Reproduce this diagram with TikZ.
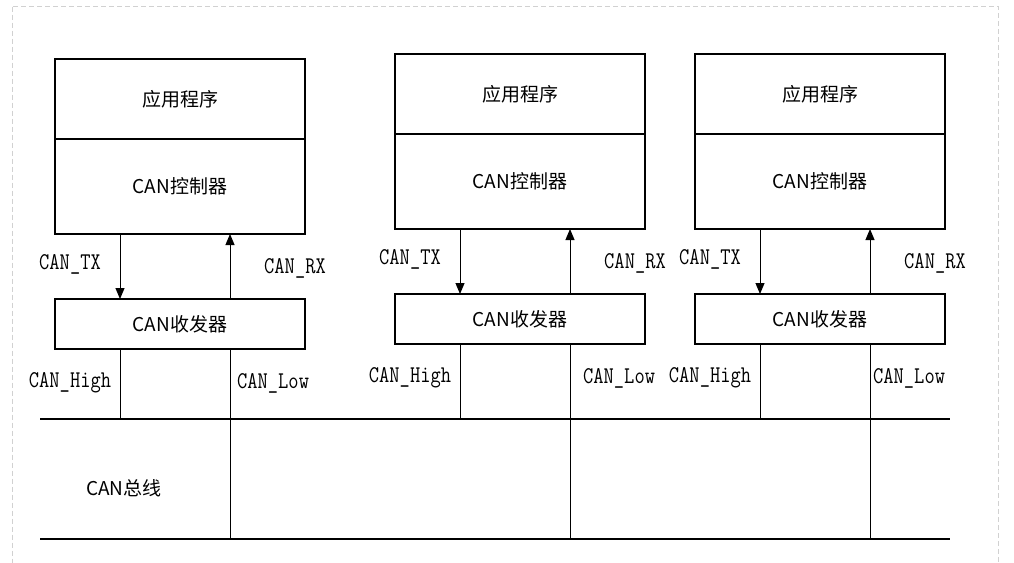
\documentclass[tikz,border=0pt]{standalone}
\usepackage{graphicx}
\usepackage{fontspec}
\newfontfamily\cjk{Noto Sans CJK SC}
\usetikzlibrary{arrows.meta}
\newcommand\narrowtxt[1]{\scalebox{0.83}[1]{#1}}
\tikzset{
  blk/.style={draw, line width=1.3pt, minimum width=250pt, inner sep=0pt, outer sep=0pt, anchor=north west, font=\cjk\fontsize{19}{22}\selectfont},
  lbl/.style={inner sep=0pt, font=\ttfamily\fontsize{24}{26}\selectfont},
  sig/.style={line width=1pt, -{Triangle[length=11pt,width=9pt]}},
  wire/.style={line width=1pt},
  bus/.style={line width=1.6pt}
}
\begin{document}
\begin{tikzpicture}[x=1pt,y=-1pt]
\useasboundingbox (0,0) rectangle (1014,562);
\draw[black!18, line width=0.8pt, dash pattern=on 5pt off 3pt] (12.5,6.5) rectangle (998.5,575);
% bus
\coordinate (busAL) at (40,419);
\coordinate (busAR) at (950,419);
\coordinate (busBL) at (40,539);
\coordinate (busBR) at (950,539);
\draw[bus] (busAL) -- (busAR);
\draw[bus] (busBL) -- (busBR);
\node[inner sep=0pt, font=\cjk\fontsize{19}{22}\selectfont] (buslbl) at (124,488) {CAN总线};
\foreach \i/\x/\y/\lo in {1/55/59/182, 2/395/54/188, 3/695/54/178}{
  \node[blk, minimum height=80pt] (app\i) at (\x,\y) {应用程序};
  \node[blk, minimum height=95pt] (ctl\i) at (app\i.south west) {CAN控制器};
  \node[blk, minimum height=50pt] (trx\i) at (\x,\y+240) {CAN收发器};
  \coordinate (hi\i) at (\x+65,419);
  \coordinate (lo\i) at (\x+175,539);
  \draw[sig] (ctl\i.south -| hi\i) -- (trx\i.north -| hi\i);
  \draw[sig] (trx\i.north -| lo\i) -- (ctl\i.south -| lo\i);
  \draw[wire] (trx\i.south -| hi\i) -- (hi\i);
  \draw[wire] (trx\i.south -| lo\i) -- (lo\i);
  \node[lbl] (tx\i) at (\x+15,\y+205) {\narrowtxt{CAN\_TX}};
  \node[lbl] (rx\i) at (\x+240,\y+209) {\narrowtxt{CAN\_RX}};
  \node[lbl] (hl\i) at (\x+15,\y+324) {\narrowtxt{CAN\_High}};
  \node[lbl, anchor=west] (ll\i) at (\x+\lo,\y+324) {\narrowtxt{CAN\_Low}};
}
\end{tikzpicture}
\end{document}
